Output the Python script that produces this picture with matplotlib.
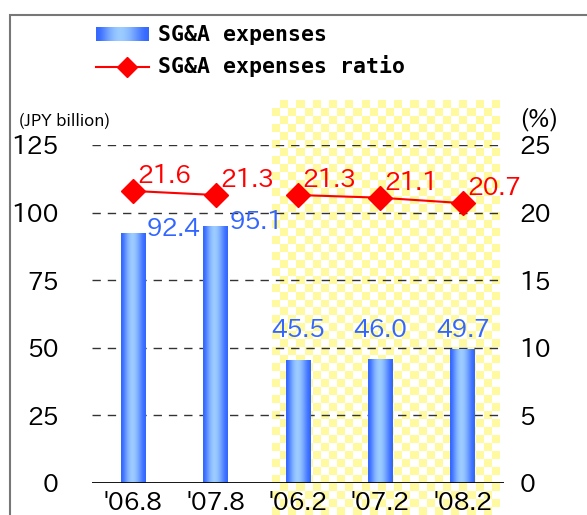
import numpy as np
import matplotlib.pyplot as plt
from matplotlib.colors import ListedColormap, LinearSegmentedColormap
from matplotlib.patches import Rectangle
from matplotlib.lines import Line2D

periods = ["'06.8", "'07.8", "'06.2", "'07.2", "'08.2"]
sga_expenses = [92.4, 95.1, 45.5, 46.0, 49.7]
sga_ratio = [21.6, 21.3, 21.3, 21.1, 20.7]
# first two points are one series, the last three another
ratio_groups = [[0, 1], [2, 3, 4]]

blue = '#3366ff'
light_blue = '#a0d0ff'
red = '#ff0000'
num_font = ['IPAPGothic', 'DejaVu Sans']
fs = 18

W, H = 587, 515
fig = plt.figure(figsize=(W / 100, H / 100), dpi=100)

# checkered yellow background behind the last three periods
bg = fig.add_axes([272 / W, 0, (500 - 272) / W, 1 - 100 / H], zorder=0)
ny, nx = 52, 28
checker = (np.add.outer(np.arange(ny), np.arange(nx)) % 2).astype(float)
bg.imshow(checker, cmap=ListedColormap(['white', '#fff9a0']), aspect='auto',
          interpolation='nearest')
bg.axis('off')

# outer frame
fig.patches.append(Rectangle((10 / W, -0.1), 1.0, 1 - 15 / H + 0.1,
                             transform=fig.transFigure, fill=False,
                             edgecolor='#777777', lw=1.5, zorder=1))

ax = fig.add_axes([92 / W, 1 - 483 / H, 412 / W, 338 / H], zorder=2)
ax.patch.set_alpha(0)
x = np.arange(len(periods))

grad = np.array([[0.0, 0.45, 0.8, 1.0, 0.9, 0.65, 0.3, 0.0]])
gcmap = LinearSegmentedColormap.from_list('g', [blue, light_blue])

bars = ax.bar(x, sga_expenses, width=0.3, color=blue, zorder=3)
for b in bars:
    im = ax.imshow(grad, cmap=gcmap, aspect='auto', interpolation='bicubic',
                   extent=[b.get_x(), b.get_x() + b.get_width(), 0, b.get_height()],
                   zorder=3)
    im.set_clip_path(b)

ax.set_xlim(-0.5, 4.5)
ax.set_ylim(0, 125)
ax.set_yticks(np.arange(0, 126, 25))
ax.set_xticks(x)
ax.set_xticklabels(periods)
ax.tick_params(length=0, labelsize=fs, pad=6)
ax.tick_params(axis='y', pad=24)
for lab in ax.get_xticklabels() + ax.get_yticklabels():
    lab.set_family(num_font)
for v in range(25, 126, 25):
    ax.axhline(v, color='#333333', lw=1, ls=(0, (6, 5)), zorder=1)
ax.axhline(0, color='black', lw=2, zorder=4)
for s in ax.spines.values():
    s.set_visible(False)

label_top = max(sga_expenses[2:])
for i, (b, v) in enumerate(zip(bars, sga_expenses)):
    if i < 2:
        ax.annotate(f'{v:.1f}', (b.get_x() + b.get_width(), v), xytext=(1, 3),
                    textcoords='offset points', ha='left', va='center',
                    color=blue, fontsize=fs, family=num_font)
    else:
        ax.annotate(f'{v:.1f}', (i, label_top), xytext=(0, 5),
                    textcoords='offset points', ha='center', va='bottom',
                    color=blue, fontsize=fs, family=num_font)

ax2 = ax.twinx()
ax2.set_ylim(0, 25)
ax2.set_yticks(np.arange(0, 26, 5))
ax2.tick_params(length=0, labelsize=fs, pad=11)
for lab in ax2.get_yticklabels():
    lab.set_family(num_font)
for s in ax2.spines.values():
    s.set_visible(False)
for g in ratio_groups:
    ax2.plot(x[g], [sga_ratio[i] for i in g], color=red, lw=1.5, marker='D',
             markersize=12, zorder=5)
for i, v in enumerate(sga_ratio):
    ax2.annotate(f'{v:.1f}', (i, v), xytext=(3, 2), textcoords='offset points',
                 ha='left', va='bottom', color=red, fontsize=fs, family=num_font)

fig.text(19 / W, 1 - 121 / H, '(JPY billion)', fontsize=12, va='center',
         family=num_font)
fig.text(520 / W, 1 - 119 / H, '(%)', fontsize=18, va='center', family=num_font)

# legend, drawn by hand
lg = fig.add_axes([96 / W, 1 - 41 / H, 53 / W, 14 / H], zorder=3)
lg.imshow(grad, cmap=gcmap, aspect='auto', interpolation='bicubic')
lg.axis('off')
fig.text(158 / W, 1 - 35 / H, 'SG&A expenses', fontsize=15.5, weight='bold',
         family='DejaVu Sans Mono', va='center')
fig.lines.append(Line2D([96 / W, 149 / W], [1 - 67 / H] * 2, color=red, lw=1.5,
                        transform=fig.transFigure))
fig.lines.append(Line2D([127 / W], [1 - 67 / H], color=red, marker='D',
                        markersize=10, transform=fig.transFigure))
fig.text(158 / W, 1 - 66 / H, 'SG&A expenses ratio', fontsize=15.5, weight='bold',
         family='DejaVu Sans Mono', va='center')

fig.savefig('out.png', dpi=100)
